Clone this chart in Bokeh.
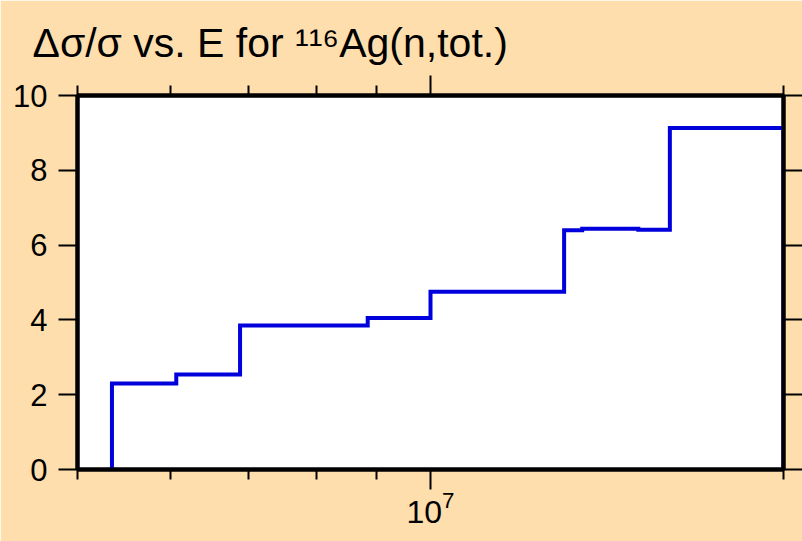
from bokeh.plotting import figure
from bokeh.models import FixedTicker, LinearAxis, LogAxis, Range1d
from bokeh.embed import file_html
from bokeh.resources import INLINE

# ---- data ----
energy_edges = [5.35e6, 6.07e6, 6.88e6, 8.84e6, 1.0e7, 1.30e7, 1.347e7, 1.504e7, 1.60e7, 2.0e7]
rel_unc = [2.30, 2.54, 3.85, 4.05, 4.75, 6.40, 6.44, 6.41, 9.13]
x_limits = [5e6, 2e7]
y_limits = [0, 10]
x_major_ticks = [1e7]
x_minor_ticks = [5e6, 6e6, 7e6, 8e6, 9e6, 2e7]
y_ticks = [0, 2, 4, 6, 8, 10]
title_text = "Δσ/σ vs. E for \u00b9\u00b9\u2076Ag(n,tot.)"

FONT = "Liberation Sans"
BG = "#FFDEAD"
BLUE = "#0000DD"

p = figure(width=802, height=541, x_axis_type="log", title=title_text,
           x_range=Range1d(*x_limits), y_range=Range1d(*y_limits),
           output_backend="svg", toolbar_location=None,
           min_border_left=77, min_border_right=19, min_border_top=95, min_border_bottom=72,
           background_fill_color="white", border_fill_color=BG,
           outline_line_color="black", outline_line_width=4)
p.grid.visible = False

p.title.text_font = FONT
p.title.text_font_size = "41px"
p.title.text_font_style = "normal"
p.title.text_color = "black"
p.title.align = "left"
p.title.offset = -45
p.title.standoff = 19

# step path built from the bin edges and values
xs, ys = [energy_edges[0]], [0]
for i, v in enumerate(rel_unc):
    xs += [energy_edges[i], energy_edges[i + 1]]
    ys += [v, v]
xs.append(energy_edges[-1])
ys.append(0)
p.line(xs, ys, line_color=BLUE, line_width=4, line_join="miter")


def style(ax, labels=True, major_out=20, minor_out=10, size="31px"):
    ax.axis_line_color = "black"
    ax.axis_line_width = 4
    ax.major_tick_line_color = "black"
    ax.major_tick_line_width = 2
    ax.minor_tick_line_color = "black"
    ax.minor_tick_line_width = 2
    ax.major_tick_in = 0
    ax.minor_tick_in = 0
    ax.major_tick_out = major_out
    ax.minor_tick_out = minor_out
    ax.major_label_text_font = FONT
    ax.major_label_text_color = "black"
    ax.major_label_text_font_size = size
    if not labels:
        ax.major_label_text_color = None
        ax.major_label_text_font_size = "1px"
        ax.major_label_standoff = 0


bx = p.xaxis[0]
bx.ticker = FixedTicker(ticks=x_major_ticks, minor_ticks=x_minor_ticks)
style(bx, size="32px")
bx.major_label_standoff = 1

ly = p.yaxis[0]
ly.ticker = FixedTicker(ticks=y_ticks, minor_ticks=[])
style(ly, major_out=19, minor_out=0, size="31px")
ly.major_label_standoff = 11

top = LogAxis(ticker=FixedTicker(ticks=x_major_ticks, minor_ticks=x_minor_ticks))
style(top, labels=False)
p.add_layout(top, "above")

right = LinearAxis(ticker=FixedTicker(ticks=y_ticks, minor_ticks=[]))
style(right, labels=False, major_out=19, minor_out=0)
p.add_layout(right, "right")

open("out.html", "w").write(file_html(p, INLINE))
